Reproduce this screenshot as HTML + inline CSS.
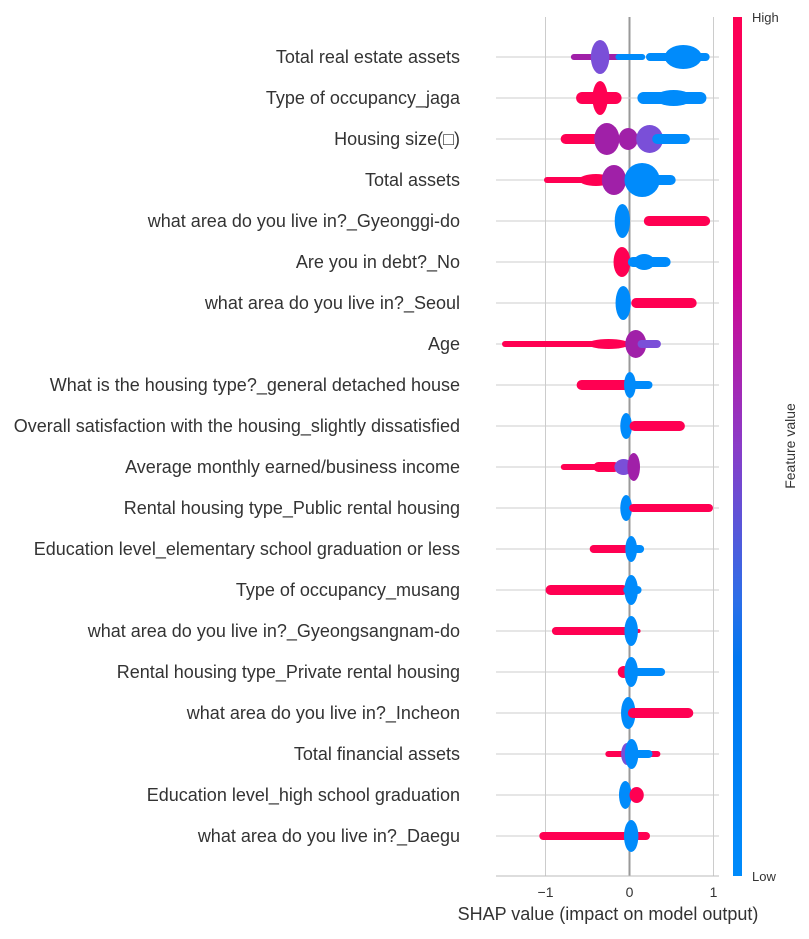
<!DOCTYPE html>
<html><head><meta charset="utf-8"><style>
body{margin:0;background:#fff;}
svg text{font-family:"Liberation Sans","Noto Sans CJK KR",sans-serif;}
</style></head><body>
<svg id="c" width="809" height="934" viewBox="0 0 809 934">
<defs><linearGradient id="cg" x1="0" y1="0" x2="0" y2="1">
<stop offset="0" stop-color="#ff0052"/><stop offset="0.3" stop-color="#d4048f"/><stop offset="0.5" stop-color="#8a3cc8"/><stop offset="0.68" stop-color="#2c6ee8"/><stop offset="0.75" stop-color="#0077f0"/><stop offset="1" stop-color="#008bfb"/></linearGradient></defs>
<g id="grid"></g><g id="marks"></g><g id="labels"></g>
<line x1="496" y1="876" x2="719" y2="876" stroke="#bbb" stroke-width="1"/>
<rect x="733" y="17" width="9" height="859" fill="url(#cg)"/>
<text x="752" y="22" font-size="13" fill="#333">High</text>
<text x="752" y="881" font-size="13" fill="#333">Low</text>
<text transform="translate(795,446) rotate(-90)" text-anchor="middle" font-size="14" fill="#333">Feature value</text>
<text x="608" y="920" text-anchor="middle" font-size="18" fill="#333">SHAP value (impact on model output)</text>
</svg>
<script>
const features=["Total real estate assets","Type of occupancy_jaga","Housing size(\u25a1)","Total assets","what area do you live in?_Gyeonggi-do","Are you in debt?_No","what area do you live in?_Seoul","Age","What is the housing type?_general detached house","Overall satisfaction with the housing_slightly dissatisfied","Average monthly earned/business income","Rental housing type_Public rental housing","Education level_elementary school graduation or less","Type of occupancy_musang","what area do you live in?_Gyeongsangnam-do","Rental housing type_Private rental housing","what area do you live in?_Incheon","Total financial assets","Education level_high school graduation","what area do you live in?_Daegu"];
const xTicks=[-1,0,1];
const xTickLabels=["\u22121","0","1"];
// per-row clusters: [lo, hi, halfThickness, color, kind]
const R="#ff0052",B="#008bfb",P="#a020a8",V="#7a4fd8";
const clusters=[
[[-0.68,0.0,3,P,"b"],[-0.46,-0.24,17,V,"e"],[-0.15,0.17,3,B,"b"],[0.22,0.93,4,B,"b"],[0.42,0.86,12,B,"e"]],
[[-0.6,-0.13,6,R,"b"],[-0.44,-0.26,17,R,"e"],[0.13,0.88,6,B,"b"],[0.3,0.75,8,B,"e"]],
[[-0.79,-0.38,5,R,"b"],[-0.42,-0.12,16,P,"e"],[-0.13,0.1,11,P,"e"],[0.08,0.4,14,V,"e"],[0.3,0.69,5,B,"b"]],
[[-1.0,-0.4,3,R,"b"],[-0.6,-0.2,6,R,"e"],[-0.33,-0.04,15,P,"e"],[-0.06,0.36,17,B,"e"],[0.2,0.52,5,B,"b"]],
[[-0.17,0.0,17,B,"e"],[0.2,0.93,5,R,"b"]],
[[-0.19,0.01,15,R,"e"],[0.01,0.46,5,B,"b"],[0.05,0.3,8,B,"e"]],
[[-0.16,0.01,17,B,"e"],[0.05,0.77,5,R,"b"]],
[[-1.5,-0.1,3,R,"b"],[-1.2,-0.15,3,R,"b"],[-0.5,0.0,5,R,"e"],[-0.05,0.2,14,P,"e"],[0.12,0.35,4,V,"b"]],
[[-0.6,-0.02,5,R,"b"],[-0.03,0.04,13,B,"e"],[0.0,0.25,4,B,"b"]],
[[-0.09,0.01,13,B,"e"],[0.03,0.63,5,R,"b"]],
[[-0.8,-0.4,3,R,"b"],[-0.4,-0.15,5,R,"b"],[-0.18,0.04,8,V,"e"],[0.0,0.1,14,P,"e"]],
[[-0.09,0.01,13,B,"e"],[0.02,0.97,4,R,"b"]],
[[-0.45,-0.03,4,R,"b"],[-0.01,0.05,13,B,"e"],[0.0,0.15,4,B,"b"]],
[[-0.97,-0.05,5,R,"b"],[-0.05,0.12,4,B,"b"],[-0.01,0.05,15,B,"e"]],
[[-0.9,-0.02,4,R,"b"],[0.0,0.12,2,R,"b"],[-0.01,0.05,15,B,"e"]],
[[-0.14,0.0,6,R,"e"],[-0.01,0.05,15,B,"e"],[0.0,0.4,4,B,"b"]],
[[-0.04,0.01,16,B,"e"],[0.01,0.73,5,R,"b"]],
[[-0.27,0.35,3,R,"b"],[-0.1,0.04,11,V,"e"],[-0.03,0.08,15,B,"e"],[0.0,0.25,4,B,"b"]],
[[-0.12,0.02,14,B,"e"],[0.0,0.17,8,R,"e"]],
[[-1.05,0.22,4,R,"b"],[-0.01,0.05,16,B,"e"]]
];
const NS="http://www.w3.org/2000/svg";
const x0=629.5,sx=84,y0=57,dy=41;
const X=v=>x0+v*sx, Y=i=>y0+i*dy;
const grid=document.getElementById('grid'),marks=document.getElementById('marks'),labels=document.getElementById('labels');
function mk(t,a,p){const e=document.createElementNS(NS,t);for(const k in a)e.setAttribute(k,a[k]);p.appendChild(e);return e;}
xTicks.forEach((t,i)=>{
 const l=mk('line',{x1:X(t),x2:X(t),y1:17,y2:876,stroke:t===0?'#999':'#ccc','stroke-width':t===0?2:1},grid);
 
 
 const tx=mk('text',{x:X(t),y:897,'text-anchor':'middle','font-size':14,fill:'#333'},labels);
 tx.textContent=xTickLabels[i];
 
 
});
features.forEach((f,i)=>{
 const l=mk('line',{x1:496,x2:719,y1:Y(i),y2:Y(i),stroke:'#ccc','stroke-width':1},grid);
 
 
 const t=mk('text',{x:460,y:Y(i)+6,'text-anchor':'end','font-size':18,fill:'#333'},labels);
 t.textContent=f;
 
 
 clusters[i].forEach(c=>{
  const a=X(c[0]),b=X(c[1]),w=c[2];let e;
  if(c[4]==='e'){e=mk('ellipse',{cx:(a+b)/2,cy:Y(i),rx:Math.max((b-a)/2,w*0.45),ry:w,fill:c[3]},marks);}
  else{e=mk('rect',{x:a-w*0.5,y:Y(i)-w,width:b-a+w,height:2*w,rx:w,fill:c[3]},marks);}
  
  
 });
});
</script>
</body></html>
